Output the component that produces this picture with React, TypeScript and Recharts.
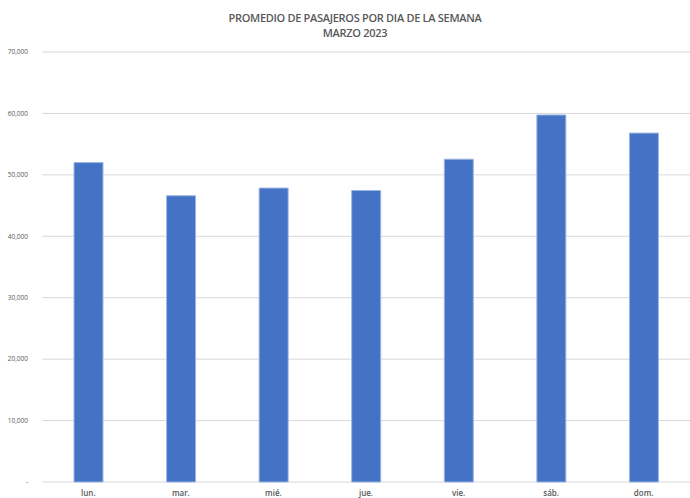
import React from 'react'
import { BarChart, Bar, XAxis, YAxis, CartesianGrid } from 'recharts'

const days = ['lun.', 'mar.', 'mié.', 'jue.', 'vie.', 'sáb.', 'dom.']
const passengers = [52000, 46600, 47850, 47450, 52550, 59750, 56800]
const yTicks = [0, 10000, 20000, 30000, 40000, 50000, 60000, 70000]

const data = days.map((day, i) => ({ day, value: passengers[i] }))

const fmt = (v: number) => (v === 0 ? '-' : v.toLocaleString('en-US'))

const App: React.FC = () => {
  return (
    <div
      style={{
        position: 'absolute',
        left: 0,
        top: 0,
        width: 690,
        height: 498,
        background: '#fff',
        fontFamily: 'Open Sans, sans-serif',
      }}
    >
      {/* Title */}
      <div
        style={{
          position: 'absolute',
          left: 0,
          top: 10,
          width: 710,
          textAlign: 'center',
          color: '#595959',
          fontSize: 11,
          lineHeight: '15px',
          fontWeight: 600,
          letterSpacing: -0.3,
        }}
      >
        PROMEDIO DE PASAJEROS POR DIA DE LA SEMANA
        <br />
        MARZO 2023
      </div>
      <BarChart
        width={690}
        height={498}
        data={data}
        margin={{ top: 52, right: 0, bottom: 0, left: 0 }}
        barSize={29}
      >
        <CartesianGrid vertical={false} stroke="#d9d9d9" />
        <XAxis
          dataKey="day"
          axisLine={false}
          tickLine={false}
          height={16}
          tickMargin={2}
          tick={{ fill: '#595959', fontSize: 8, fontWeight: 600 }}
        />
        <YAxis
          width={42}
          domain={[0, 70000]}
          ticks={yTicks}
          tickFormatter={fmt}
          axisLine={false}
          tickLine={false}
          tickMargin={8}
          tick={{ fill: '#595959', fontSize: 6.5 }}
        />
        <Bar
          dataKey="value"
          fill="#4472C4"
          stroke="#9db6e3"
          strokeWidth={1}
          isAnimationActive={false}
        />
      </BarChart>
    </div>
  )
}

export default App
